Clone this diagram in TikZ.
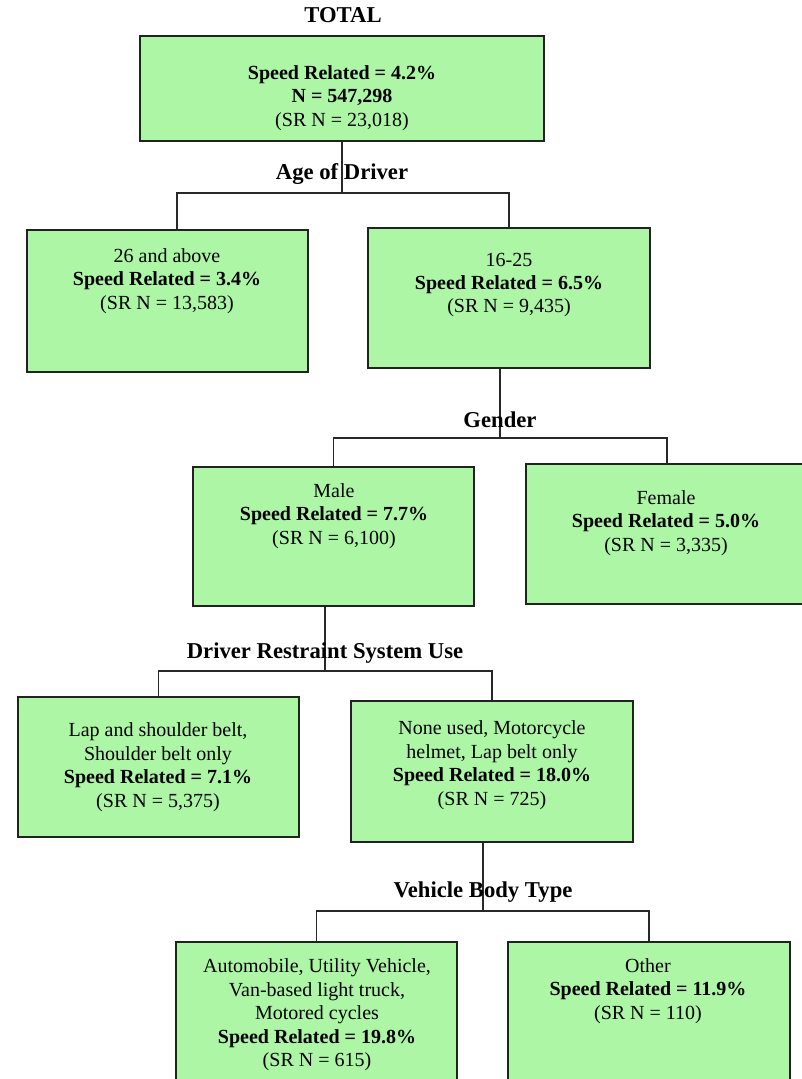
\documentclass[tikz,border=0pt]{standalone}
\usepackage{fontspec}
\setmainfont{Liberation Serif}
\usetikzlibrary{positioning}
\definecolor{boxgreen}{RGB}{172,246,166}
\definecolor{boxline}{RGB}{34,34,34}
\definecolor{branchgrey}{RGB}{40,40,40}

\begin{document}
\begin{tikzpicture}[x=0.75pt,y=0.75pt,yscale=-1,xscale=1,
  srbox/.style={draw=boxline,fill=boxgreen,line width=1.5pt,inner sep=0pt,
    minimum width=211pt,minimum height=105pt},
  srtext/.style={align=center,font=\fontsize{15}{17.6}\selectfont},
  splitlabel/.style={font=\fontsize{17}{20}\selectfont\bfseries},
  branch/.style={draw=branchgrey,line width=1.1pt}]
\useasboundingbox (0,0) rectangle (801,1079);

%Boxes
\node [srbox,minimum width=303pt,minimum height=79pt] (top) at (342,88.5) {};
\node [srbox,minimum height=106.5pt] (over) at (167.5,301) {};
\node [srbox] (under) at (509,298) {};
\node [srbox,minimum height=104pt] (male) at (333.5,536.5) {};
\node [srbox] (female) at (667,534) {};
\node [srbox] (belt) at (158.5,767) {};
\node [srbox,minimum height=106pt] (nobelt) at (492,771.5) {};
\node [srbox,minimum height=111pt] (car) at (316.5,1016) {};
\node [srbox,minimum height=111pt] (other) at (649,1016) {};

%Forks
\coordinate (age) at (342,193);
\coordinate (gen) at (500,438);
\coordinate (drs) at (325,671);
\coordinate (vbt) at (483,911);

%Straight Lines
\draw [branch] (top) -- (age);
\draw [branch] (age) -| ([xshift=7.1pt]over.north);
\draw [branch] (age) -| (under);
%Straight Lines
\draw [branch] (under.south -| gen) -- (gen);
\draw [branch] (gen) -| (male);
\draw [branch] (gen) -| (female);
%Straight Lines
\draw [branch] (male.south -| drs) -- (drs);
\draw [branch] (drs) -| (belt);
\draw [branch] (drs) -| (nobelt);
%Straight Lines
\draw [branch] (nobelt.south -| vbt) -- (vbt);
\draw [branch] (vbt) -| (car);
\draw [branch] (vbt) -| (other);

% Text Node
\node [splitlabel] (total) at (343,15) {TOTAL};
% Text Node
\node [srtext] (t_top) at (342,98) {\textbf{Speed Related = 4.2\%}\\\textbf{N = 547,298}\\(SR N = 23,018)};
% Text Node
\node [splitlabel] (l_age) at (342,174) {Age of Driver};
% Text Node
\node [srtext] (t_over) at (167,281) {26 and above\\\textbf{Speed Related = 3.4\%}\\(SR N = 13,583)};
% Text Node
\node [srtext] (t_under) at (509,285) {16-25\\\textbf{Speed Related = 6.5\%}\\(SR N = 9,435)};
% Text Node
\node [splitlabel] (l_gen) at (500,420) {Gender};
% Text Node
\node [srtext] (t_male) at (334,516) {Male\\\textbf{Speed Related = 7.7\%}\\(SR N = 6,100)};
% Text Node
\node [srtext] (t_female) at (666,523) {Female\\\textbf{Speed Related = 5.0\%}\\(SR N = 3,335)};
% Text Node
\node [splitlabel] (l_drs) at (325,653) {Driver Restraint System Use};
% Text Node
\node [srtext] (t_belt) at (158,767) {Lap and shoulder belt,\\Shoulder belt only\\\textbf{Speed Related = 7.1\%}\\(SR N = 5,375)};
% Text Node
\node [srtext] (t_nobelt) at (492,765) {None used, Motorcycle\\helmet, Lap belt only\\\textbf{Speed Related = 18.0\%}\\(SR N = 725)};
% Text Node
\node [splitlabel] (l_vbt) at (483,892) {Vehicle Body Type};
% Text Node
\node [srtext] (t_car) at (317,1015) {Automobile, Utility Vehicle,\\Van-based light truck,\\Motored cycles\\\textbf{Speed Related = 19.8\%}\\(SR N = 615)};
% Text Node
\node [srtext] (t_other) at (648,991) {Other\\\textbf{Speed Related = 11.9\%}\\(SR N = 110)};

\end{tikzpicture}
\end{document}
